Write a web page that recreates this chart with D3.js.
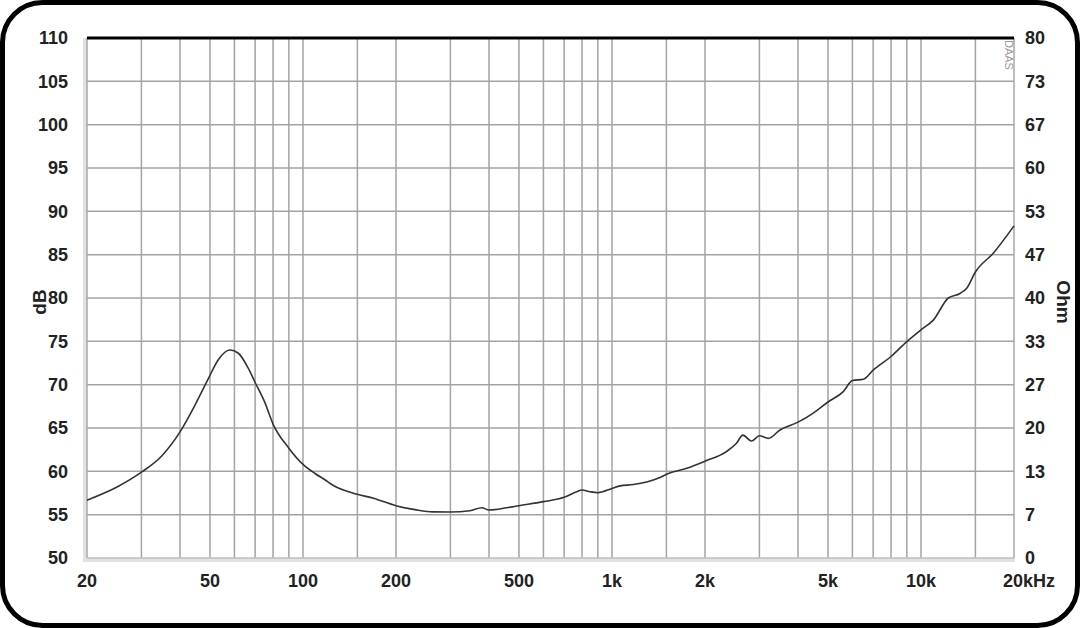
<!DOCTYPE html>
<html>
<head>
<meta charset="utf-8">
<script src="https://cdn.jsdelivr.net/npm/d3@7"></script>
<style>
  html, body { margin: 0; padding: 0; background: #fff; }
  svg { display: block; }
  text { font-family: "Liberation Sans", Arial, sans-serif; font-weight: bold; fill: #222; }
</style>
</head>
<body>
<svg id="chart"></svg>
<script>
// Impedance curve (Hz / Ohm)
const freqs = [20, 25.2, 30, 34.9, 40, 44.7, 49.4, 53.2, 58, 61.8, 66.5, 70, 75.3, 80, 90, 100, 109.4, 118, 125,
  150, 169, 200, 233, 264, 300, 347, 379, 400, 456, 500, 600, 700, 769, 800, 849, 900,
  1000, 1062, 1172, 1430, 1522, 1745, 2000, 2351, 2533, 2650, 2832, 3000, 3205, 3497,
  4000, 4482, 5000, 5604, 6000, 6510, 7000, 8000, 9000, 10000, 10963, 12258, 13373,
  14057, 15000, 17140, 20000]
const ohms = [8.9, 11.0, 13.2, 15.7, 19.4, 23.5, 27.6, 30.5, 32.0, 31.5, 29.2, 27.0, 23.9, 20.6, 16.9, 14.4, 13.0, 12.0, 11.2,
  9.8, 9.2, 8.05, 7.4, 7.1, 7.08, 7.28, 7.73, 7.39, 7.73, 8.05, 8.67, 9.33, 10.2, 10.47, 10.2, 10.05,
  10.7, 11.1, 11.3, 12.4, 13.0, 13.8, 14.9, 16.4, 17.7, 18.9, 18.0, 18.8, 18.4, 19.7,
  20.9, 22.3, 24.0, 25.6, 27.3, 27.5, 28.9, 31.0, 33.3, 35.1, 36.6, 40.0, 40.7,
  41.5, 44.0, 46.9, 51.1]

// Axis ticks
const gridFreqs = [30, 40, 50, 60, 70, 80, 90, 100, 150, 200, 300, 400, 500, 600, 700, 800, 900,
  1000, 1500, 2000, 3000, 4000, 5000, 6000, 7000, 8000, 9000, 10000, 15000]
const freqTicks = [20, 50, 100, 200, 500, 1000, 2000, 5000, 10000, 20000]
const freqLabels = ['20', '50', '100', '200', '500', '1k', '2k', '5k', '10k', '20kHz']
const dbTicks = [50, 55, 60, 65, 70, 75, 80, 85, 90, 95, 100, 105, 110]
const ohmLabels = ['0', '7', '13', '20', '27', '33', '40', '47', '53', '60', '67', '73', '80']

const width = 1080
const height = 628
const plot = { left: 87, right: 1014, top: 38, bottom: 558 }

const svg = d3.select('#chart')
  .attr('width', width)
  .attr('height', height)

// Scales
const x = d3.scaleLog().domain([20, 20000]).range([plot.left, plot.right])
const yDb = d3.scaleLinear().domain([50, 110]).range([plot.bottom, plot.top])
const yOhm = d3.scaleLinear().domain([0, 80]).range([plot.bottom, plot.top])

// Rounded frame
svg.append('rect')
  .attr('x', 2.5).attr('y', 2.5)
  .attr('width', width - 5).attr('height', height - 5)
  .attr('rx', 40).attr('ry', 40)
  .attr('fill', '#fff')
  .attr('stroke', '#000')
  .attr('stroke-width', 5)

const g = svg.append('g')

// Grid
g.selectAll('line.vgrid')
  .data(gridFreqs)
  .join('line')
  .attr('class', 'vgrid')
  .attr('x1', d => x(d)).attr('x2', d => x(d))
  .attr('y1', plot.top).attr('y2', plot.bottom)
  .attr('stroke', '#a3a3a3')
  .attr('stroke-width', 1.5)

g.selectAll('line.hgrid')
  .data(dbTicks.slice(1, -1))
  .join('line')
  .attr('class', 'hgrid')
  .attr('x1', plot.left).attr('x2', plot.right)
  .attr('y1', d => yDb(d)).attr('y2', d => yDb(d))
  .attr('stroke', '#a3a3a3')
  .attr('stroke-width', 1.5)

// Plot edges
g.append('line')
  .attr('x1', plot.left - 2).attr('x2', plot.left - 2)
  .attr('y1', plot.top).attr('y2', plot.bottom + 3)
  .attr('stroke', '#e2e2e2').attr('stroke-width', 4)
g.append('line')
  .attr('x1', plot.left - 4).attr('x2', plot.right + 1)
  .attr('y1', plot.bottom + 2).attr('y2', plot.bottom + 2)
  .attr('stroke', '#e2e2e2').attr('stroke-width', 4)
g.append('line')
  .attr('x1', plot.left).attr('x2', plot.left)
  .attr('y1', plot.top).attr('y2', plot.bottom)
  .attr('stroke', '#a8a8a8').attr('stroke-width', 1.5)
g.append('line')
  .attr('x1', plot.left).attr('x2', plot.right)
  .attr('y1', plot.bottom).attr('y2', plot.bottom)
  .attr('stroke', '#bdbdbd').attr('stroke-width', 1.5)
g.append('line')
  .attr('x1', plot.right).attr('x2', plot.right)
  .attr('y1', plot.top).attr('y2', plot.bottom)
  .attr('stroke', '#a8a8a8').attr('stroke-width', 1.5)
g.append('line')
  .attr('x1', plot.left).attr('x2', plot.right)
  .attr('y1', plot.top).attr('y2', plot.top)
  .attr('stroke', '#000').attr('stroke-width', 3)

// Watermark
g.append('text')
  .attr('transform', `translate(${plot.right - 9},${plot.top + 2}) rotate(90)`)
  .attr('font-size', 11)
  .style('font-weight', 'normal')
  .style('fill', '#9a9a9a')
  .text('DAAS')

// Impedance curve
const line = d3.line()
  .x((d, i) => x(freqs[i]))
  .y(d => yOhm(d))
  .curve(d3.curveMonotoneX)

g.append('path')
  .datum(ohms)
  .attr('d', line)
  .attr('fill', 'none')
  .attr('stroke', '#333')
  .attr('stroke-width', 1.6)

// Left axis (dB)
g.selectAll('text.db')
  .data(dbTicks)
  .join('text')
  .attr('class', 'db')
  .attr('x', 68)
  .attr('y', d => yDb(d))
  .attr('dy', '0.35em')
  .attr('text-anchor', 'end')
  .attr('font-size', 18)
  .text(d => d)

// Right axis (Ohm)
g.selectAll('text.ohm')
  .data(ohmLabels)
  .join('text')
  .attr('class', 'ohm')
  .attr('x', 1025)
  .attr('y', (d, i) => yOhm(i * 80 / 12))
  .attr('dy', '0.35em')
  .attr('text-anchor', 'start')
  .attr('font-size', 18)
  .text(d => d)

// Bottom axis (Hz)
g.selectAll('text.hz')
  .data(freqTicks)
  .join('text')
  .attr('class', 'hz')
  .attr('x', (d, i) => i === freqTicks.length - 1 ? x(d) - 11 : x(d))
  .attr('y', 587)
  .attr('text-anchor', (d, i) => i === freqTicks.length - 1 ? 'start' : 'middle')
  .attr('font-size', 18)
  .text((d, i) => freqLabels[i])

// Axis titles
g.append('text')
  .attr('transform', 'translate(46,302) rotate(-90)')
  .attr('text-anchor', 'middle')
  .attr('font-size', 19)
  .text('dB')

g.append('text')
  .attr('transform', 'translate(1057,302) rotate(90)')
  .attr('text-anchor', 'middle')
  .attr('font-size', 19)
  .text('Ohm')
</script>
</body>
</html>
